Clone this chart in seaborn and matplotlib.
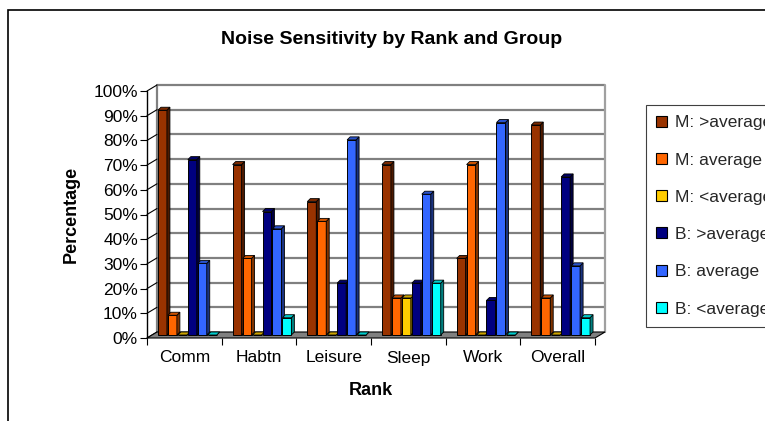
import matplotlib
matplotlib.use("Agg")
import matplotlib.pyplot as plt
import seaborn as sns
import pandas as pd
import numpy as np
from matplotlib.patches import Polygon, Rectangle, Patch
from matplotlib.ticker import PercentFormatter
from matplotlib.colors import to_rgb

# ---------------- data ----------------
ranks = ["Comm", "Habtn", "Leisure", "Sleep", "Work", "Overall"]
groups = ["M: >average", "M: average", "M: <average",
          "B: >average", "B: average", "B: <average"]
m_above = [91, 69, 54, 69, 31, 85]
m_avg = [8, 31, 46, 15, 69, 15]
m_below = [0, 0, 0, 15, 0, 0]
b_above = [71, 50, 21, 21, 14, 64]
b_avg = [29, 43, 79, 57, 86, 28]
b_below = [0, 7, 0, 21, 0, 7]
colors = ["#993300", "#FF6600", "#FFCC00", "#000080", "#3366FF", "#00FFFF"]

series = [m_above, m_avg, m_below, b_above, b_avg, b_below]
rows = []
for g, vals in zip(groups, series):
    for r, v in zip(ranks, vals):
        rows.append({"Rank": r, "Group": g, "Percentage": v})
df = pd.DataFrame(rows)

# ---------------- style ----------------
sns.set_theme(style="white")
plt.rcParams['font.family'] = ['Liberation Sans', 'DejaVu Sans']

W, H = 765, 421
fig = plt.figure(figsize=(W / 100, H / 100), dpi=100)
fig.patch.set_facecolor("white")
ax_left, ax_right, ax_top, ax_bot = 147, 595, 91, 338
ax = fig.add_axes([ax_left / W, (H - ax_bot) / H,
                   (ax_right - ax_left) / W, (ax_bot - ax_top) / H])

sns.barplot(data=df, x="Rank", y="Percentage", hue="Group",
            order=ranks, hue_order=groups, palette=colors, width=0.8,
            saturation=1, edgecolor="black", linewidth=0.7, ax=ax)
ax.set_xlim(-0.5, 5.5)
ax.set_ylim(0, 100)
ax.set_facecolor("none")
for s in ax.spines.values():
    s.set_visible(False)

px = 6.0 / (ax_right - ax_left)      # data units per pixel (x)
py = 100.0 / (ax_bot - ax_top)       # data units per pixel (y)
dx, dy = 10 * px, 6 * py             # depth of the 3D box
sdx, sdy = 3 * px, 3 * py            # depth of bars

# ---------------- walls / floor ----------------
floor = Polygon([(-0.5, 0), (5.5, 0), (5.5 + dx, dy), (-0.5 + dx, dy)],
                closed=True, fc="#808080", ec="black", lw=0.8,
                clip_on=False, zorder=1)
ax.add_patch(floor)
for v in range(10, 101, 10):
    ax.plot([-0.5 + dx, 5.5 + dx], [v + dy, v + dy], color="#808080",
            lw=1.6, clip_on=False, zorder=0.5, solid_capstyle="butt")
for v in range(0, 101, 10):
    ax.plot([-0.5, -0.5 + dx], [v, v + dy], color="black", lw=0.8,
            clip_on=False, zorder=0.6)
ax.plot([-0.5 + dx, -0.5 + dx], [dy, 100 + dy], color="#808080", lw=1.6,
        clip_on=False, zorder=0.5)
ax.plot([5.5 + dx, 5.5 + dx], [dy, 100 + dy], color="#A0A0A0", lw=1.6,
        clip_on=False, zorder=0.5)
ax.plot([-0.5, -0.5], [0, 100], color="black", lw=1.0, clip_on=False,
        zorder=2)

# ---------------- 3D bars ----------------
for i, cont in enumerate(ax.containers):
    base = np.array(to_rgb(colors[i]))
    top_c = base * 0.8
    side_c = base * 0.5
    for j, bar in enumerate(cont.patches):
        x0 = bar.get_x() + 3.5 * px
        w = bar.get_width() * 0.9
        h = bar.get_height()
        y0 = 3 * py
        z = 10 + j * 10 + i
        bar.set_x(x0)
        bar.set_width(w)
        bar.set_y(y0)
        bar.set_zorder(z)
        top = Polygon([(x0, y0 + h), (x0 + w, y0 + h),
                       (x0 + w + sdx, y0 + h + sdy), (x0 + sdx, y0 + h + sdy)],
                      closed=True, fc=top_c, ec="black", lw=0.6, zorder=z)
        side = Polygon([(x0 + w, y0), (x0 + w, y0 + h),
                        (x0 + w + sdx, y0 + h + sdy), (x0 + w + sdx, y0 + sdy)],
                       closed=True, fc=side_c, ec="black", lw=0.6, zorder=z)
        ax.add_patch(side)
        ax.add_patch(top)

# ---------------- ticks / labels ----------------
ax.set_yticks(range(0, 101, 10))
ax.yaxis.set_major_formatter(PercentFormatter(decimals=0))
ax.tick_params(axis="y", left=True, length=5, width=0.8, color="black",
               direction="out", labelsize=12.5, pad=1.5, labelcolor="black")
ax.set_xticks(range(len(ranks)))
ax.set_xticks(np.arange(-0.5, 6.0, 1.0), minor=True)
ax.tick_params(axis="x", which="major", bottom=True, length=0,
               labelsize=12.5, pad=9, labelcolor="black")
ax.tick_params(axis="x", which="minor", bottom=True, length=5, width=0.8,
               color="black", direction="out")

ax.set_xlabel("Rank", fontsize=13, fontweight="bold", labelpad=12,
              color="black")
ax.set_ylabel("Percentage", fontsize=13, fontweight="bold", labelpad=10,
              color="black")

# ---------------- legend ----------------
ax.get_legend().remove()
handles = [Patch(fc=c, ec="black", lw=0.8) for c in colors]
leg = fig.legend(handles, groups, loc="upper left",
                 bbox_to_anchor=(646 / W, 1 - 105 / H),
                 bbox_transform=fig.transFigure, frameon=True,
                 fancybox=False, edgecolor="#404040", framealpha=1,
                 fontsize=12.5, handlelength=0.6, handleheight=0.6,
                 handletextpad=0.45, labelspacing=1.28, borderpad=0.6,
                 borderaxespad=0)
leg.get_frame().set_linewidth(0.8)

# ---------------- title / border ----------------
fig.text(392 / W, 1 - 40 / H, "Noise Sensitivity by Rank and Group",
         ha="center", va="center", fontsize=14, fontweight="bold",
         color="black")
fig.patches.append(Rectangle((8 / W, -0.2), 1.0, 1.2 - 10 / H,
                             transform=fig.transFigure, fill=False,
                             ec="black", lw=1.2))

fig.savefig("out.png", dpi=100)
